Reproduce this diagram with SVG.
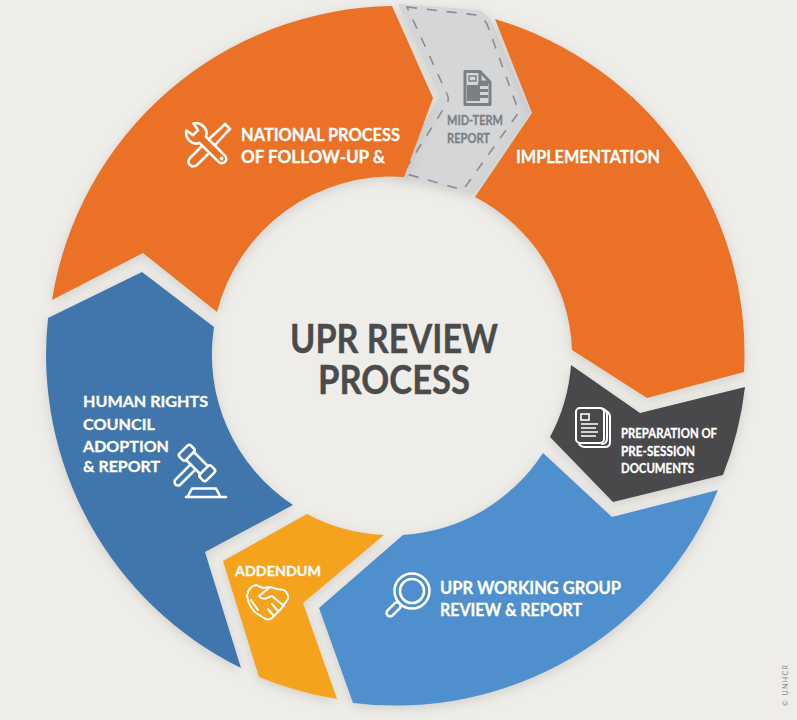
<svg xmlns="http://www.w3.org/2000/svg" width="797" height="720" viewBox="0 0 797 720">
<defs>
<filter id="soft" x="-15%" y="-15%" width="130%" height="130%"><feDropShadow dx="0" dy="3" stdDeviation="6" flood-color="#8f8d86" flood-opacity="0.32"/></filter>
</defs>
<style>
text{font-family:"Lato","Liberation Sans",sans-serif;font-weight:700}
.lbl{fill:#fff;stroke:#fff;stroke-width:.3;font-size:16.5px}
.sm{font-size:12.5px}
.mid{font-size:12.5px;fill:#7d8083;stroke:#7d8083;stroke-width:.3}
.ctr{fill:#4b4b4b;stroke:#4b4b4b;stroke-width:.4;font-size:40px}
.ic{fill:none;stroke:#fff;stroke-width:2.6;stroke-linecap:round;stroke-linejoin:round}
.seg{filter:url(#soft)}
</style>
<rect width="797" height="720" fill="#eeede9"/>
<g id="node-midterm">
<path class="seg" d="M398,4 L478,10 Q488,13 493,25 L530,112 L473,194 L394,175 L440,97 Z" fill="#d5d6d8"/>
<path d="M407,7 L476,15 Q483,17 487,24 L519,112 L463,190 L403,173 L446,105 Q450,100 447,94 Z" fill="none" stroke="#8a8c8e" stroke-width="1.6" stroke-dasharray="10 10"/>
<g fill="none" stroke="#7d8083" stroke-width="3" stroke-linejoin="round"><path d="M465,71.500H480L490,82V104.500H465Z"/><path d="M480,71.500V82H490"/></g>
<path d="M467,85H478V82H488V86H480V89H488V92H480V95H488V98H480V101H467Z" fill="#7d8083"/>
<rect x="469" y="76" width="7" height="5" fill="none" stroke="#7d8083" stroke-width="1.500"/>
<text class="mid" x="447" y="125" textLength="56" lengthAdjust="spacingAndGlyphs">MID-TERM</text>
<text class="mid" x="447" y="142.500" textLength="43" lengthAdjust="spacingAndGlyphs">REPORT</text>
</g>
<g id="node-followup">
<path class="seg" d="M52,300 A349,349 0 0 1 392,6 L433,98 L404,177 A180,180 0 0 0 217,312 L143,253 Z" fill="#ea7125"/>
<text class="lbl" x="241" y="141" textLength="159" lengthAdjust="spacingAndGlyphs">NATIONAL PROCESS</text>
<text class="lbl" x="241" y="163" textLength="144" lengthAdjust="spacingAndGlyphs">OF FOLLOW-UP &amp;</text>
<g class="ic">
<path transform="translate(197,134) rotate(45)" d="M8,-4.500 Q6,-10 -1,-10 Q-7,-10 -10,-5 L-2,-3.500 L-2,3.500 L-10,5 Q-7,10 -1,10 Q6,10 8,4.500 L35,4.500 A4.500,4.500 0 0 0 35,-4.500 Z"/>
<path d="M210,138 L221,128 L225,124 L230,129 L226,133 L216,144"/>
<path d="M201,147 L190,158 Q187,162 190,165 Q193,168 197,165 L208,154"/>
<circle cx="221.500" cy="158.500" r="1" stroke-width="1.800"/>
</g>
</g>
<g id="node-implementation">
<path class="seg" d="M495,19 A349,349 0 0 1 744,372 L647,398 L572,350 A180,180 0 0 0 475,197 L532,113 Z" fill="#ea7125"/>
<text class="lbl" x="516" y="163" textLength="144" lengthAdjust="spacingAndGlyphs">IMPLEMENTATION</text>
</g>
<g id="node-presession">
<path class="seg" d="M571,365 L640,413 L745,387 A349,349 0 0 1 723,475 L613,502 L550,437 A180,180 0 0 0 571,365 Z" fill="#4a4a4b"/>
<g class="ic" style="stroke-width:2">
<path d="M606,411 Q610,413 610,417 V442 Q610,447 605,447 H585 Q581,447 579,444"/>
<path d="M602,408.500 Q607,410 607,414 V438 Q607,444 602,444"/>
<rect x="576" y="408" width="28" height="35" rx="4"/>
</g>
<g fill="none" stroke="#fff" stroke-width="1.600"><rect x="581" y="414" width="8" height="6"/><path d="M581,424H598M581,428H596M581,432H598M581,436H596"/></g>
<text class="lbl sm" x="621" y="438" textLength="96" lengthAdjust="spacingAndGlyphs">PREPARATION OF</text>
<text class="lbl sm" x="621" y="455.500" textLength="74" lengthAdjust="spacingAndGlyphs">PRE-SESSION</text>
<text class="lbl sm" x="621" y="473" textLength="73" lengthAdjust="spacingAndGlyphs">DOCUMENTS</text>
</g>
<g id="node-working-group">
<path class="seg" d="M543,453 L612,517 L718,490 A349,349 0 0 1 353,703 L319,608 L403,535 A180,180 0 0 0 543,453 Z" fill="#4f8fcd"/>
<g class="ic" transform="translate(412,591) rotate(45)">
<circle r="17.500"/><circle r="12"/><rect x="-3.500" y="17.500" width="7" height="17" rx="3.500"/>
</g>
<text class="lbl" x="440" y="594" textLength="181" lengthAdjust="spacingAndGlyphs">UPR WORKING GROUP</text>
<text class="lbl" x="440" y="616" textLength="142" lengthAdjust="spacingAndGlyphs">REVIEW &amp; REPORT</text>
</g>
<g id="node-addendum">
<path class="seg" d="M307,514 A180,180 0 0 0 384,535 L303,603 L337,699 A349,349 0 0 1 259,677 L223,561 Z" fill="#f5a31d"/>
<text class="lbl sm" x="235" y="576" textLength="86" lengthAdjust="spacingAndGlyphs" style="font-size:14px">ADDENDUM</text>
<g class="ic" style="stroke-width:2">
<path d="M247,596 Q248,587 256,585 L263,588 L270,587 L277,589 L284,590 Q289,594 288,599 L281,609 L272,618 Q268,621 264,618 L256,613 Q249,607 247,596 Z"/>
<path d="M269,588 L259,596 Q262,600 267,598 L272,596 L284,606"/>
<path d="M251,600 L258,610 M272,604 L278,611 M268,609 L273,615"/>
</g>
</g>
<g id="node-adoption">
<path class="seg" d="M48,318 L142,272 L214,327 A180,180 0 0 0 293,505 L205,552 L241,668 A349,349 0 0 1 48,318 Z" fill="#3f76ac"/>
<text class="lbl" x="83" y="407" textLength="125" lengthAdjust="spacingAndGlyphs" style="font-size:15.500px">HUMAN RIGHTS</text>
<text class="lbl" x="83" y="429.500" textLength="72" lengthAdjust="spacingAndGlyphs" style="font-size:15.500px">COUNCIL</text>
<text class="lbl" x="83" y="451.500" textLength="86" lengthAdjust="spacingAndGlyphs" style="font-size:15.500px">ADOPTION</text>
<text class="lbl" x="83" y="472" textLength="77" lengthAdjust="spacingAndGlyphs" style="font-size:15.500px">&amp; REPORT</text>
<g class="ic" transform="translate(197,463) rotate(45)">
<rect x="-19" y="-8" width="9" height="16" rx="2.500"/><rect x="10" y="-8" width="9" height="16" rx="2.500"/><path d="M-10,-5.500H10M-10,5.500H10"/><path d="M-3.500,5.500V28Q0,33 3.500,28V5.500"/>
</g>
<g class="ic"><path d="M192,488.500H216M192,488.500L188,496M216,488.500L220,496M186,497H226"/></g>
</g>
<g id="node-center">
<text class="ctr"><tspan x="290" y="353" textLength="208" lengthAdjust="spacingAndGlyphs">UPR REVIEW</tspan><tspan x="318" y="394" textLength="152" lengthAdjust="spacingAndGlyphs">PROCESS</tspan></text>
</g>
<text transform="translate(788,706) rotate(-90)" font-size="7" fill="#8a8a88" textLength="41" style="font-weight:400">© UNHCR</text>
</svg>
